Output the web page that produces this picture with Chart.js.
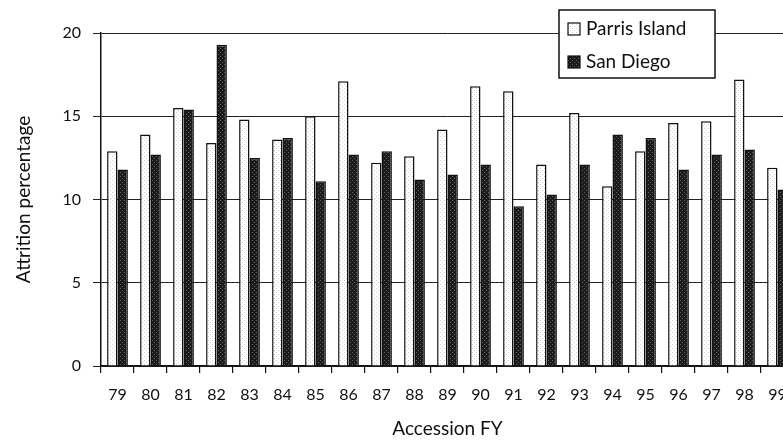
<!DOCTYPE html>
<html>
<head>
<meta charset="utf-8">
<script src="https://cdn.jsdelivr.net/npm/chart.js@4.4.1/dist/chart.umd.min.js"></script>
<style>
  html, body { margin: 0; padding: 0; background: #fff; overflow: hidden; }
  #wrap { position: relative; width: 800px; height: 443px; }
</style>
</head>
<body>
<div id="wrap"><canvas id="myChart"></canvas></div>
<script>
const years = ['79', '80', '81', '82', '83', '84', '85', '86', '87', '88', '89',
               '90', '91', '92', '93', '94', '95', '96', '97', '98', '99'];
const parrisIsland = [12.9, 13.9, 15.5, 13.4, 14.8, 13.6, 15.0, 17.1, 12.2, 12.6, 14.2,
                      16.8, 16.5, 12.1, 15.2, 10.8, 12.9, 14.6, 14.7, 17.2, 11.9];
const sanDiego = [11.8, 12.7, 15.4, 19.3, 12.5, 13.7, 11.1, 12.7, 12.9, 11.2, 11.5,
                  12.1, 9.6, 10.3, 12.1, 13.9, 13.7, 11.8, 12.7, 13.0, 10.6];
const yTicks = [0, 5, 10, 15, 20];

const FONT = 'Lato, "DejaVu Sans", sans-serif';

// stippled fills, like the scanned print
function stipple(bg, dot) {
    const c = document.createElement('canvas');
    c.width = 4;
    c.height = 4;
    const g = c.getContext('2d');
    g.fillStyle = bg;
    g.fillRect(0, 0, 4, 4);
    g.fillStyle = dot;
    g.fillRect(0, 0, 1, 1);
    g.fillRect(2, 2, 1, 1);
    return g.createPattern(c, 'repeat');
}

const lightFill = stipple('#ffffff', '#cfcfcf');
const darkFill = stipple('#1c1c1c', '#5e5e5e');

const boxLegend = {
    id: 'boxLegend',
    afterDraw(chart) {
        const ctx = chart.ctx;
        const x = 559, y = 10, w = 156, h = 68;
        ctx.save();
        ctx.fillStyle = '#fff';
        ctx.fillRect(x, y, w, h);
        ctx.strokeStyle = '#111';
        ctx.lineWidth = 1.5;
        ctx.strokeRect(x, y, w, h);

        chart.data.datasets.forEach((ds, i) => {
            const cy = y + 19 + i * 33;
            ctx.fillStyle = ds.backgroundColor;
            ctx.fillRect(x + 9, cy - 6, 12, 12);
            ctx.strokeStyle = '#111';
            ctx.lineWidth = 1.2;
            ctx.strokeRect(x + 9, cy - 6, 12, 12);
            ctx.fillStyle = '#111';
            ctx.font = '19px ' + FONT;
            ctx.textBaseline = 'middle';
            ctx.fillText(ds.label, x + 27, cy);
        });
        ctx.restore();
    }
};

const spacing = {
    id: 'spacing',
    beforeInit(chart) {
        chart.ctx.letterSpacing = '1px';
    }
};

const ctx = document.getElementById('myChart');

new Chart(ctx, {
    type: 'bar',

    data: {
        labels: years,

        datasets: [{
            label: 'Parris Island',
            data: parrisIsland,
            backgroundColor: lightFill,
            borderColor: '#111',
            borderWidth: 1.5
        }, {
            label: 'San Diego',
            data: sanDiego,
            backgroundColor: darkFill,
            borderColor: '#111',
            borderWidth: 1.5
        }]
    },

    options: {
        responsive: true,
        maintainAspectRatio: false,
        animation: false,
        barPercentage: 1,
        categoryPercentage: 0.63,

        layout: {
            padding: { top: 33, right: 6, left: 0, bottom: 0 }
        },

        plugins: {
            legend: { display: false },
            tooltip: { enabled: false }
        },

        scales: {
            x: {
                grid: {
                    drawOnChartArea: false,
                    color: '#111',
                    tickLength: 7,
                    lineWidth: 1.2
                },
                border: { color: '#111', width: 1.5 },
                ticks: {
                    color: '#111',
                    padding: 12,
                    maxRotation: 0,
                    autoSkip: false,
                    font: { family: FONT, size: 16 }
                },
                title: {
                    display: true,
                    text: 'Accession FY',
                    color: '#111',
                    padding: { top: 10, bottom: 3 },
                    font: { family: FONT, size: 19 }
                },
                afterFit(scale) {
                    scale.height = 77;
                }
            },

            y: {
                min: 0,
                max: 20,
                afterBuildTicks(scale) {
                    scale.ticks = yTicks.map(v => ({ value: v }));
                },
                grid: {
                    color: '#222',
                    lineWidth: 1,
                    tickLength: 8
                },
                border: { color: '#111', width: 1.5 },
                ticks: {
                    color: '#111',
                    padding: 12,
                    font: { family: FONT, size: 16 }
                },
                title: {
                    display: true,
                    text: 'Attrition percentage',
                    color: '#111',
                    padding: { top: 12, bottom: 10 },
                    font: { family: FONT, size: 19 }
                },
                afterFit(scale) {
                    scale.width = 101;
                }
            }
        }
    },

    plugins: [spacing, boxLegend]
});
</script>
</body>
</html>
